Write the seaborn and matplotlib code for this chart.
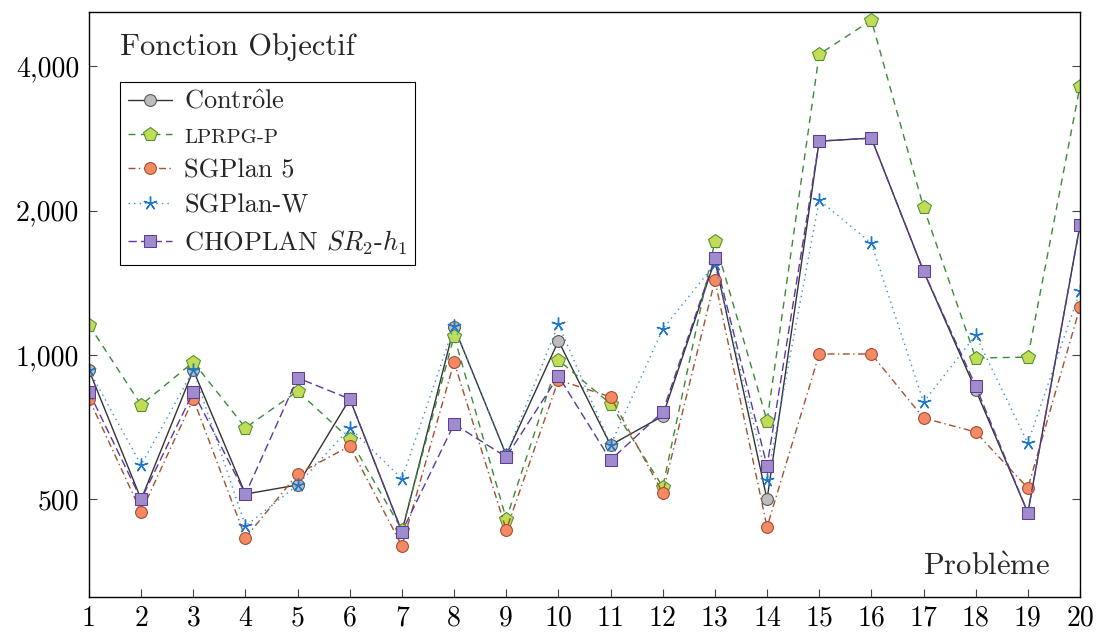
import numpy as np
import pandas as pd
import matplotlib
matplotlib.use("Agg")
import matplotlib.pyplot as plt
import matplotlib.ticker as mticker
import seaborn as sns

problems = list(range(1, 21))
controle = [930, 500, 930, 513, 536, 810, 428, 1144, 619, 1070,
            649, 746, 1577, 500, 2792, 2833, 1496, 846, 469, 1866]
lprpg = [1155, 787, 967, 705, 841, 668, 432, 1095, 455, 976,
         791, 531, 1728, 729, 4237, 4990, 2034, 986, 990, 3634]
sgplan5 = [810, 471, 810, 416, 565, 646, 400, 967, 432, 887,
           818, 516, 1433, 438, 1005, 1005, 739, 691, 528, 1259]
sgplanw = [930, 590, 930, 440, 536, 705, 552, 1149, 619, 1160,
           649, 1133, 1547, 549, 2104, 1711, 798, 1100, 655, 1360]
choplan = [837, 500, 837, 513, 896, 810, 428, 718, 613, 904,
           604, 761, 1592, 587, 2792, 2833, 1496, 862, 469, 1866]
yticks = [500, 1000, 2000, 4000]
ytick_labels = ["500", "1,000", "2,000", "4,000"]

sns.set_theme(style="white")
plt.rcParams["font.family"] = ["cmr10", "DejaVu Serif"]
plt.rcParams["mathtext.fontset"] = "cm"
plt.rcParams["axes.formatter.use_mathtext"] = True

fig = plt.figure(figsize=(10.99, 6.32), dpi=100)
ax = fig.add_axes([89 / 1099, 35 / 632, (1080 - 89) / 1099, (597 - 12) / 632])

series = [
    (r"$\mathrm{Contr\hat{o}le}$", controle,
     dict(color="#333333", linestyle="-", marker="o",
          markerfacecolor="#bdbdbd", markeredgecolor="#505050", markersize=8.5)),
    ("LPRPG-P", lprpg,
     dict(color="#3a8a3a", linestyle=(0, (5, 4)), marker="p",
          markerfacecolor="#c2dc5a", markeredgecolor="#4c8f2c", markersize=10)),
    ("SGPlan 5", sgplan5,
     dict(color="#a0522d", linestyle=(0, (5, 2.5, 1, 2.5)), marker="o",
          markerfacecolor="#f28a64", markeredgecolor="#a8442a", markersize=8.5)),
    ("SGPlan-W", sgplanw,
     dict(color="#2f8fd8", linestyle=(0, (1, 3)), marker=(5, 2, 0),
          markerfacecolor="#1f77c8", markeredgecolor="#1f77c8", markersize=10,
          markeredgewidth=1.0)),
    ("CHOPLAN $SR_2$-$h_1$", choplan,
     dict(color="#5b3a9a", linestyle=(0, (6, 3)), marker="s",
          markerfacecolor="#a08ccc", markeredgecolor="#5e3d99", markersize=9)),
]

for label, vals, style in series:
    df = pd.DataFrame({"x": problems, "y": vals})
    sns.lineplot(data=df, x="x", y="y", ax=ax, label=label, linewidth=1.0, **style)

ax.set_yscale("log")
ax.set_xlim(1, 20)
ax.set_ylim(313, 5190)
ax.set_xticks(problems)
ax.set_xticklabels([str(p) for p in problems])
ax.yaxis.set_major_locator(mticker.FixedLocator(yticks))
ax.yaxis.set_major_formatter(mticker.FixedFormatter(ytick_labels))
ax.yaxis.set_minor_locator(mticker.NullLocator())
ax.tick_params(axis="both", direction="in", length=6, width=0.8, labelsize=20,
               colors="#444444", labelcolor="black", bottom=True, left=True, right=True, top=False)
ax.tick_params(axis="y", pad=7)
ax.tick_params(axis="x", pad=6)
ax.set_xlabel("")
ax.set_ylabel("")
for s in ax.spines.values():
    s.set_color("black")
    s.set_linewidth(1.0)

ax.text(0.031, 0.94, "Fonction Objectif", transform=ax.transAxes, fontsize=22,
        ha="left", va="center")
ax.text(0.97, 0.051, r"$\mathrm{Probl\grave{e}me}$", transform=ax.transAxes, fontsize=22,
        ha="right", va="center")

leg = ax.legend(loc="upper left", bbox_to_anchor=(0.031, 0.88), borderaxespad=0,
                fontsize=19, frameon=True, fancybox=False, edgecolor="black", framealpha=1,
                handlelength=1.7, borderpad=0.3, labelspacing=0.42, handletextpad=0.45)
leg.get_frame().set_linewidth(0.8)
leg.get_texts()[1].set_fontsize(15)

fig.savefig("out.png", dpi=100)
